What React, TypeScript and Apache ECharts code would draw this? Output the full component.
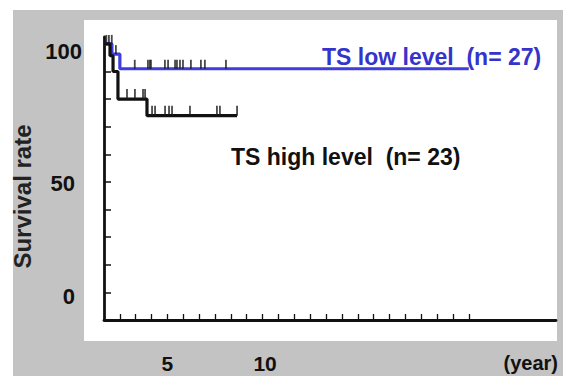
import React, { useEffect, useRef } from "react";
import * as echarts from "echarts";

// Kaplan-Meier steps: [year, survival %]
const lowLevelSteps: number[][] = [
  [0, 100], [0.5, 96.3], [1.0, 91], [23, 91],
];
const highLevelSteps: number[][] = [
  [0, 100], [0.38, 95.7], [0.57, 90], [0.88, 80], [2.71, 74], [8.39, 74],
];
// censored observations
const lowLevelCensored: number[][] = [
  [0.15, 100], [0.31, 100], [0.49, 100], [0.75, 96.3],
  [1.94, 91], [2.77, 91], [2.89, 91], [2.96, 91], [3.84, 91], [4.04, 91],
  [4.48, 91], [4.6, 91], [4.79, 91], [4.98, 91], [5.48, 91], [6.11, 91],
  [6.36, 91], [7.69, 91],
];
const highLevelCensored: number[][] = [
  [1.45, 80], [1.95, 80], [2.46, 80], [2.59, 80],
  [3.03, 74], [3.22, 74], [3.85, 74], [4.1, 74], [4.29, 74], [5.42, 74],
  [7.12, 74], [7.31, 74], [8.39, 74],
];
const xTickValues = [1, 2, 3, 4, 5, 6, 7, 8, 9, 10, 11, 12, 13, 14, 15, 16, 17, 18, 19, 20, 21, 22, 23];
const xLabelValues = [5, 10];
const yTickValues = [10, 20, 30, 40, 50, 60, 70, 80, 90, 100];
const yLabelValues = [0, 50, 100];
const lowLabel = "TS low level  (n= 27)";
const highLabel = "TS high level  (n= 23)";

const BLUE_LINE = "#3d3de0";
const BLUE_TEXT = "#3434cc";
const FONT = "Liberation Sans, Arial, sans-serif";

export default function App() {
  const ref = useRef<HTMLDivElement>(null);
  useEffect(() => {
    if (!ref.current) return;
    const chart = echarts.init(ref.current, null, { renderer: "svg" });
    const labelFont = { fontFamily: FONT, fontWeight: "bold" as const, fontSize: 22, color: "#111" };
    chart.setOption({
      animation: false,
      backgroundColor: "#ffffff",
      graphic: [
        { type: "rect", z: -20, silent: true, shape: { x: 13, y: 10, width: 550, height: 366 }, style: { fill: "#c3c3c3" } },
        { type: "rect", z: -19, silent: true, shape: { x: 84, y: 20, width: 473, height: 321 }, style: { fill: "#ffffff" } },
        {
          type: "text", x: 322, y: 57, z: 10,
          style: { text: lowLabel, fill: BLUE_TEXT, font: `bold 23px ${FONT}`, verticalAlign: "middle", align: "left" },
        },
        {
          type: "text", x: 231, y: 157, z: 10,
          style: { text: highLabel, fill: "#111", font: `bold 23px ${FONT}`, verticalAlign: "middle", align: "left" },
        },
      ],
      grid: { left: 104, right: 7, top: 37, bottom: 56 },
      xAxis: {
        type: "value", min: 0, max: 28.5,
        name: "(year)", nameLocation: "end", nameGap: 2,
        nameTextStyle: { ...labelFont, fontSize: 20, align: "right", verticalAlign: "top", padding: [33, 0, 0, 0] },
        splitLine: { show: false },
        axisLine: { lineStyle: { color: "#111", width: 2.8 } },
        axisTick: { inside: true, length: 6, customValues: xTickValues, lineStyle: { color: "#111", width: 1.3 } },
        axisLabel: {
          customValues: xLabelValues, margin: 33,
          ...labelFont, fontSize: 21,
          formatter: (v: number) => `{x${v}|${v}}`,
          rich: {
            x5: { ...labelFont, fontSize: 21, padding: [0, 32, 0, 0] },
            x10: { ...labelFont, fontSize: 21, padding: [0, 0, 0, 5] },
          },
        },
      },
      yAxis: {
        type: "value", min: 0, max: 102.5,
        name: "Survival rate", nameLocation: "middle", nameRotate: 90, nameGap: 67,
        nameTextStyle: { fontFamily: FONT, fontWeight: "bold", fontSize: 24, color: "#222", padding: [0, 36, 0, 0] },
        splitLine: { show: false },
        axisLine: { lineStyle: { color: "#111", width: 2.8 } },
        axisTick: { inside: true, length: 7, customValues: yTickValues, lineStyle: { color: "#111", width: 1.5 } },
        axisLabel: {
          customValues: yLabelValues, margin: 22,
          ...labelFont,
          formatter: (v: number) => `{y${v}|${v}}`,
          rich: {
            y0: { ...labelFont, padding: [0, 7, 47, 0] },
            y50: { ...labelFont, padding: [4, 7, 0, 0] },
            y100: { ...labelFont, padding: [15, 0, 0, 0] },
          },
        },
      },
      series: [
        {
          type: "line", step: "end", data: lowLevelSteps, showSymbol: false, symbol: "none",
          lineStyle: { color: BLUE_LINE, width: 3.2 }, z: 3,
        },
        {
          type: "line", step: "end", data: highLevelSteps, showSymbol: false, symbol: "none",
          lineStyle: { color: "#111", width: 3.2 }, z: 4,
        },
        {
          type: "scatter", data: lowLevelCensored, symbol: "rect", symbolSize: [1.8, 9], symbolOffset: [0, -4.5],
          itemStyle: { color: "#1a1a1a" }, z: 5,
        },
        {
          type: "scatter", data: highLevelCensored, symbol: "rect", symbolSize: [1.8, 10], symbolOffset: [0, -5],
          itemStyle: { color: "#1a1a1a" }, z: 5,
        },
      ],
    });
    return () => chart.dispose();
  }, []);
  return <div ref={ref} style={{ position: "fixed", left: 0, top: 0, width: 563, height: 376 }} />;
}
